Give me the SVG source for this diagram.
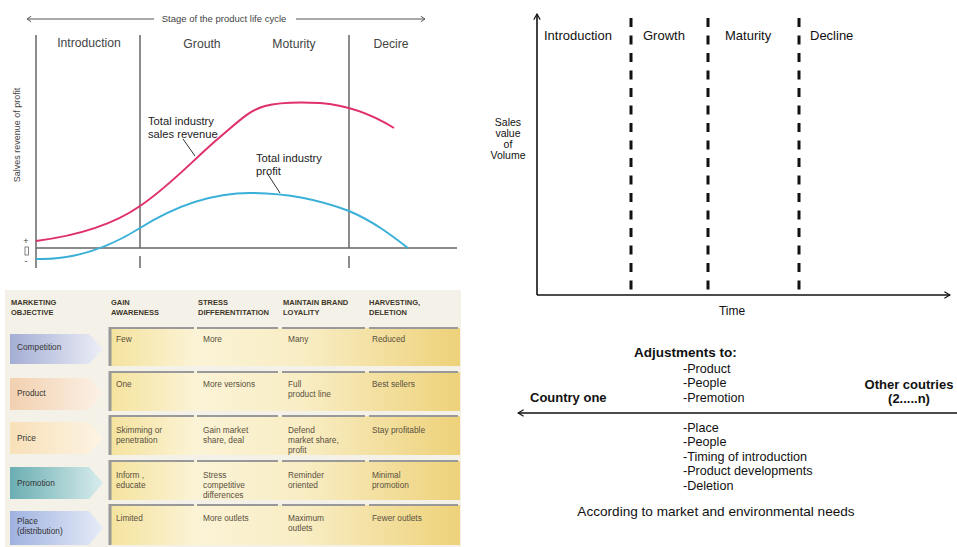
<svg xmlns="http://www.w3.org/2000/svg" width="957" height="547" viewBox="0 0 957 547">
<style>
.g{fill:none;stroke:#666;stroke-width:1.5}
.hd{font-family:"Liberation Sans",Arial,sans-serif;font-size:12.2px;fill:#444}
.sm{font-family:"Liberation Sans",Arial,sans-serif;font-size:11.2px;fill:#222}
.th{font-family:"Liberation Sans",Arial,sans-serif;font-size:7.5px;font-weight:bold;fill:#3e3628}
.td{font-family:"Liberation Sans",Arial,sans-serif;font-size:8.3px;fill:#5a5040}
.lb{font-family:"Liberation Sans",Arial,sans-serif;font-size:9px;fill:#444}
.rt{font-family:"Liberation Sans",Arial,sans-serif;font-size:13px;fill:#111}
.rs{font-family:"Liberation Sans",Arial,sans-serif;font-size:12.6px;fill:#111}
.yl{font-family:"Liberation Sans",Arial,sans-serif;font-size:10.5px;fill:#111}
.bd{font-weight:bold;font-size:13px}
.ax{fill:none;stroke:#111;stroke-width:1.6}
.dash{fill:none;stroke:#111;stroke-width:3;stroke-dasharray:9 8.5}
.rowtop{stroke:#999;stroke-width:2}
</style>
<defs>
<linearGradient id="cell" x1="0" x2="1" y1="0" y2="0">
<stop offset="0" stop-color="#f5e39e"/><stop offset="0.25" stop-color="#fbf3d6"/><stop offset="0.55" stop-color="#f8edc4"/><stop offset="1" stop-color="#eed27a"/>
</linearGradient>
<linearGradient id="gComp" x1="0" x2="1"><stop offset="0" stop-color="#a4aed4"/><stop offset="1" stop-color="#eceef7"/></linearGradient>
<linearGradient id="gProd" x1="0" x2="1"><stop offset="0" stop-color="#f2d0b0"/><stop offset="1" stop-color="#fcf1e6"/></linearGradient>
<linearGradient id="gPrice" x1="0" x2="1"><stop offset="0" stop-color="#f8e0b8"/><stop offset="1" stop-color="#fdf4e4"/></linearGradient>
<linearGradient id="gPromo" x1="0" x2="1"><stop offset="0" stop-color="#6aaeb2"/><stop offset="1" stop-color="#d8ecec"/></linearGradient>
<linearGradient id="gPlace" x1="0" x2="1"><stop offset="0" stop-color="#9fb2e0"/><stop offset="1" stop-color="#e6ebf7"/></linearGradient>
<marker id="chev" viewBox="0 0 10 10" refX="9" refY="5" markerWidth="8" markerHeight="8" orient="auto-start-reverse" markerUnits="userSpaceOnUse">
<path d="M2,1 L9,5 L2,9" fill="none" stroke="#111" stroke-width="1.4"/>
</marker>
<marker id="chevg" viewBox="0 0 10 10" refX="9" refY="5" markerWidth="7" markerHeight="7" orient="auto-start-reverse" markerUnits="userSpaceOnUse">
<path d="M3,1 L9,5 L3,9" fill="none" stroke="#555" stroke-width="1.4"/>
</marker>
</defs>
<rect width="957" height="547" fill="#fff"/>

<!-- Top-left: product life cycle chart -->
<g id="plc-chart">
<line x1="27" y1="19" x2="154" y2="19" stroke="#555" stroke-width="1" marker-start="url(#chevg)"/>
<line x1="296" y1="19" x2="425" y2="19" stroke="#555" stroke-width="1" marker-end="url(#chevg)"/>
<text x="224" y="22" text-anchor="middle" class="lb" style="font-size:9.5px">Stage of the product life cycle</text>
<line x1="36" y1="35" x2="36" y2="268" class="g"/>
<line x1="140" y1="35" x2="140" y2="248" class="g"/>
<line x1="349" y1="35" x2="349" y2="248" class="g"/>
<line x1="140" y1="256" x2="140" y2="268" class="g"/>
<line x1="349" y1="256" x2="349" y2="268" class="g"/>
<line x1="36" y1="248" x2="457" y2="248" class="g"/>
<text x="89" y="47" text-anchor="middle" class="hd">Introduction</text>
<text x="202" y="48" text-anchor="middle" class="hd">Grouth</text>
<text x="294" y="48" text-anchor="middle" class="hd">Moturity</text>
<text x="391" y="48" text-anchor="middle" class="hd">Decire</text>
<text transform="translate(20,135) rotate(-90)" text-anchor="middle" class="lb">Salves revenue of profit</text>
<text x="26" y="244" text-anchor="middle" class="lb">+</text>
<rect x="25" y="247" width="3.5" height="8" fill="none" stroke="#666" stroke-width="0.8"/>
<text x="26" y="264" text-anchor="middle" class="lb">-</text>
<path d="M36,241 C90,234 120,220 140,206 C170,186 195,158 220,137 C240,120 250,110 265,106 C280,102 300,102 320,103 C345,105 370,113 394,128" fill="none" stroke="#e0306a" stroke-width="2"/>
<path d="M36,259 C70,260 105,250 140,228 C180,203 215,193 250,193 C290,193 320,200 349,211 C375,222 395,238 408,248" fill="none" stroke="#3ab0d8" stroke-width="2"/>
<text x="148" y="125" class="sm">Total industry</text>
<text x="148" y="138" class="sm">sales revenue</text>
<line x1="183" y1="139" x2="195" y2="156" stroke="#333" stroke-width="1"/>
<text x="256" y="162" class="sm">Total industry</text>
<text x="256" y="175" class="sm">profit</text>
<line x1="267" y1="173" x2="280" y2="193" stroke="#333" stroke-width="1"/>
</g>

<!-- Bottom-left: marketing objective table -->
<g id="mix-table">
<rect x="5" y="290" width="456" height="257" fill="#f4f2e8"/>
<text x="11" y="305" class="th">MARKETING</text><text x="11" y="315" class="th">OBJECTIVE</text>
<text x="111" y="305" class="th">GAIN</text><text x="111" y="315" class="th">AWARENESS</text>
<text x="198" y="305" class="th">STRESS</text><text x="198" y="315" class="th">DIFFERENTITATION</text>
<text x="283" y="305" class="th">MAINTAIN BRAND</text><text x="283" y="315" class="th">LOYALITY</text>
<text x="369" y="305" class="th">HARVESTING,</text><text x="369" y="315" class="th">DELETION</text>
</g>

<g id="row-competition">
<rect x="110" y="328" width="350" height="38" fill="url(#cell)"/>
<line x1="110" y1="328" x2="194" y2="328" class="rowtop"/><line x1="197" y1="328" x2="278" y2="328" class="rowtop"/><line x1="282" y1="328" x2="365" y2="328" class="rowtop"/><line x1="369" y1="328" x2="458" y2="328" class="rowtop"/>
<line x1="110" y1="327" x2="110" y2="366" stroke="#999" stroke-width="3"/>
<polygon points="10,334 89,334 103,349 89,364 10,364" fill="url(#gComp)"/>
<text x="17" y="350" class="td" style="fill:#333">Competition</text>
<text x="116" y="342" class="td">Few</text>
<text x="203" y="342" class="td">More</text>
<text x="288" y="342" class="td">Many</text>
<text x="372" y="342" class="td">Reduced</text>
</g>

<g id="row-product">
<rect x="110" y="372" width="350" height="39" fill="url(#cell)"/>
<line x1="110" y1="372" x2="194" y2="372" class="rowtop"/><line x1="197" y1="372" x2="278" y2="372" class="rowtop"/><line x1="282" y1="372" x2="365" y2="372" class="rowtop"/><line x1="369" y1="372" x2="458" y2="372" class="rowtop"/>
<line x1="110" y1="371" x2="110" y2="411" stroke="#999" stroke-width="3"/>
<polygon points="10,378 89,378 103,394 89,410 10,410" fill="url(#gProd)"/>
<text x="17" y="396" class="td" style="fill:#333">Product</text>
<text x="116" y="387" class="td">One</text>
<text x="203" y="387" class="td">More versions</text>
<text x="288" y="387" class="td">Full</text><text x="288" y="397" class="td">product line</text>
<text x="372" y="387" class="td">Best sellers</text>
</g>

<g id="row-price">
<rect x="110" y="416" width="350" height="39" fill="url(#cell)"/>
<line x1="110" y1="416" x2="194" y2="416" class="rowtop"/><line x1="197" y1="416" x2="278" y2="416" class="rowtop"/><line x1="282" y1="416" x2="365" y2="416" class="rowtop"/><line x1="369" y1="416" x2="458" y2="416" class="rowtop"/>
<line x1="110" y1="415" x2="110" y2="455" stroke="#999" stroke-width="3"/>
<polygon points="10,422 89,422 103,438 89,454 10,454" fill="url(#gPrice)"/>
<text x="17" y="441" class="td" style="fill:#333">Price</text>
<text x="116" y="433" class="td">Skimming or</text><text x="116" y="443" class="td">penetration</text>
<text x="203" y="433" class="td">Gain market</text><text x="203" y="443" class="td">share, deal</text>
<text x="288" y="433" class="td">Defend</text><text x="288" y="443" class="td">market share,</text><text x="288" y="453" class="td">profit</text>
<text x="372" y="433" class="td">Stay profitable</text>
</g>

<g id="row-promotion">
<rect x="110" y="461" width="350" height="39" fill="url(#cell)"/>
<line x1="110" y1="461" x2="194" y2="461" class="rowtop"/><line x1="197" y1="461" x2="278" y2="461" class="rowtop"/><line x1="282" y1="461" x2="365" y2="461" class="rowtop"/><line x1="369" y1="461" x2="458" y2="461" class="rowtop"/>
<line x1="110" y1="460" x2="110" y2="500" stroke="#999" stroke-width="3"/>
<polygon points="10,467 89,467 103,483 89,499 10,499" fill="url(#gPromo)"/>
<text x="17" y="486" class="td" style="fill:#333">Promotion</text>
<text x="116" y="478" class="td">Inform ,</text><text x="116" y="488" class="td">educate</text>
<text x="203" y="478" class="td">Stress</text><text x="203" y="488" class="td">competitive</text><text x="203" y="498" class="td">differences</text>
<text x="288" y="478" class="td">Reminder</text><text x="288" y="488" class="td">oriented</text>
<text x="372" y="478" class="td">Minimal</text><text x="372" y="488" class="td">promotion</text>
</g>

<g id="row-place">
<rect x="110" y="505" width="350" height="40" fill="url(#cell)"/>
<line x1="110" y1="505" x2="194" y2="505" class="rowtop"/><line x1="197" y1="505" x2="278" y2="505" class="rowtop"/><line x1="282" y1="505" x2="365" y2="505" class="rowtop"/><line x1="369" y1="505" x2="458" y2="505" class="rowtop"/>
<line x1="110" y1="504" x2="110" y2="545" stroke="#999" stroke-width="3"/>
<polygon points="10,511 89,511 103,528 89,545 10,545" fill="url(#gPlace)"/>
<text x="17" y="524" class="td" style="fill:#333">Place</text>
<text x="17" y="534" class="td" style="fill:#333">(distribution)</text>
<text x="116" y="521" class="td">Limited</text>
<text x="203" y="521" class="td">More outlets</text>
<text x="288" y="521" class="td">Maximum</text><text x="288" y="531" class="td">outlets</text>
<text x="372" y="521" class="td">Fewer outlets</text>
</g>

<!-- Top-right chart -->
<g id="axes">
<line x1="537" y1="295" x2="537" y2="14" class="ax" marker-end="url(#chev)"/>
<line x1="537" y1="295" x2="950" y2="295" class="ax" marker-end="url(#chev)"/>
</g>
<g id="stage-dividers">
<line x1="631" y1="18" x2="631" y2="295" class="dash"/>
<line x1="708" y1="18" x2="708" y2="295" class="dash"/>
<line x1="799" y1="18" x2="799" y2="295" class="dash"/>
</g>
<g id="stage-labels">
<text x="544" y="40" class="rt">Introduction</text>
<text x="643" y="40" class="rt">Growth</text>
<text x="725" y="40" class="rt">Maturity</text>
<text x="810" y="40" class="rt">Decline</text>
</g>
<g id="y-label">
<text x="508" y="126" text-anchor="middle" class="yl">Sales</text>
<text x="508" y="137" text-anchor="middle" class="yl">value</text>
<text x="508" y="148" text-anchor="middle" class="yl">of</text>
<text x="508" y="159" text-anchor="middle" class="yl">Volume</text>
</g>
<text id="x-label" x="732" y="315" text-anchor="middle" class="rs" style="font-size:12px">Time</text>

<!-- Bottom-right: adjustments -->
<g id="connectors">
<line x1="957" y1="413" x2="518" y2="413" class="ax" stroke-width="1.3" marker-end="url(#chev)"/>
</g>
<g id="country-one"><text x="530" y="402" class="rs bd">Country one</text></g>
<g id="other-countries">
<text x="909" y="389" text-anchor="middle" class="rs bd">Other coutries</text>
<text x="909" y="403" text-anchor="middle" class="rs bd">(2.....n)</text>
</g>
<g id="adjustments-above">
<text x="634" y="357" class="rs bd" style="font-size:13.5px">Adjustments to:</text>
<text x="683" y="373" class="rs">-Product</text>
<text x="683" y="387" class="rs">-People</text>
<text x="683" y="402" class="rs">-Premotion</text>
</g>
<g id="adjustments-below">
<text x="683" y="432" class="rs">-Place</text>
<text x="683" y="446" class="rs">-People</text>
<text x="683" y="461" class="rs">-Timing of introduction</text>
<text x="683" y="475" class="rs">-Product developments</text>
<text x="683" y="490" class="rs">-Deletion</text>
</g>
<text x="716" y="516" text-anchor="middle" class="rs" style="font-size:13.6px">According to market and environmental needs</text>
</svg>
